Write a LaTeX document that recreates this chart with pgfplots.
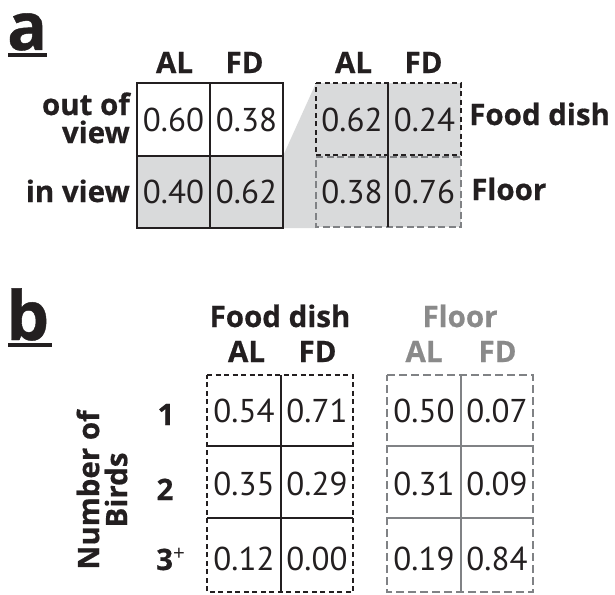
\documentclass[border=0pt]{standalone}
\usepackage{fontspec}
\setmainfont{PT Sans}
\newfontfamily\osans{Open Sans}[BoldFeatures={FakeBold=0.6}]
\usepackage{pgfplots}
\usepackage{pgfplotstable}
\pgfplotsset{compat=1.18}
\definecolor{ink}{HTML}{231F20}
\definecolor{cellgray}{HTML}{D9DADB}
\definecolor{linegray}{HTML}{808285}
\definecolor{txtgray}{HTML}{8A8A8A}
\newcommand\numfont{\fontsize{33}{36}\selectfont}
\newcommand\labfont{\osans\bfseries\fontsize{29.5}{28}\selectfont}

% panel a: proportions (x, baseline y, value)
\pgfplotstableread{
x y v
173.5 131 0.60
246.5 131 0.38
173.5 203 0.40
246.5 203 0.62
352 131 0.62
424.5 131 0.24
352 203 0.38
424.5 203 0.76
}\tabA
% panel b: food dish
\pgfplotstableread{
x y v
244 422 0.54
317 422 0.71
244 495 0.35
317 495 0.29
244 570 0.12
317 570 0.00
}\tabBfood
% panel b: floor
\pgfplotstableread{
x y v
424 422 0.50
497 422 0.07
424 495 0.31
497 495 0.09
424 570 0.19
497 570 0.84
}\tabBfloor

\begin{document}
\begin{tikzpicture}
\begin{axis}[
  scale only axis, width=615pt, height=594pt,
  xmin=0, xmax=615, ymin=0, ymax=594, y dir=reverse,
  hide axis, clip=false,
  every axis plot/.append style={line join=miter, line cap=butt},
]
% ---------- panel a fills
\addplot[fill=cellgray, draw=none] coordinates {(137,156) (283,156) (283,228) (137,228)} -- cycle;
\addplot[fill=cellgray, draw=none] coordinates {(283,156) (316,83) (316,228) (283,228)} -- cycle;
\addplot[fill=cellgray, draw=none] coordinates {(316,83) (461,83) (461,227) (316,227)} -- cycle;
% left table lines
\addplot[ink, line width=2.7pt] coordinates {(137,83) (283,83) (283,228) (137,228)} -- cycle;
\addplot[ink, line width=2.7pt] coordinates {(210,83) (210,228)};
\addplot[ink, line width=2.7pt] coordinates {(137,156) (283,156)};
% right table lines
\addplot[linegray, line width=2pt, dash pattern=on 7pt off 3.5pt] coordinates {(316,157) (461,157) (461,227) (316,227)} -- cycle;
\addplot[ink, line width=2pt, dash pattern=on 5pt off 3.5pt] coordinates {(316,83) (461,83) (461,155) (316,155)} -- cycle;
\addplot[ink, line width=2.5pt] coordinates {(388,83) (388,227)};
% ---------- panel b lines
\addplot[ink, line width=2pt, dash pattern=on 5pt off 3.5pt] coordinates {(207,375) (353,375) (353,592) (207,592)} -- cycle;
\addplot[ink, line width=2.4pt] coordinates {(281,375) (281,592)};
\addplot[ink, line width=2.4pt] coordinates {(207,446) (353,446)};
\addplot[ink, line width=2.4pt] coordinates {(207,518) (353,518)};
\addplot[linegray, line width=2pt, dash pattern=on 8pt off 4pt] coordinates {(387,375) (533,375) (533,592) (387,592)} -- cycle;
\addplot[linegray, line width=2pt] coordinates {(461,375) (461,592)};
\addplot[linegray, line width=2pt] coordinates {(387,446) (533,446)};
\addplot[linegray, line width=2pt] coordinates {(387,518) (533,518)};
% underlines
\addplot[ink, line width=4pt] coordinates {(8,55) (47,55)};
\addplot[ink, line width=4pt] coordinates {(8,345) (52,345)};
% ---------- values
\addplot[only marks, mark=none, nodes near coords, point meta=explicit symbolic,
  nodes near coords style={anchor=base, font=\numfont, text=ink, inner sep=0pt}]
  table[x=x, y=y, meta=v] {\tabA};
\addplot[only marks, mark=none, nodes near coords, point meta=explicit symbolic,
  nodes near coords style={anchor=base, font=\numfont, text=ink, inner sep=0pt}]
  table[x=x, y=y, meta=v] {\tabBfood};
\addplot[only marks, mark=none, nodes near coords, point meta=explicit symbolic,
  nodes near coords style={anchor=base, font=\numfont, text=ink, inner sep=0pt}]
  table[x=x, y=y, meta=v] {\tabBfloor};
% ---------- labels
\node[anchor=base west, inner sep=0pt, font=\osans\bfseries\fontsize{66}{66}\selectfont, text=ink] at (axis cs:7,50) {a};
\node[anchor=base west, inner sep=0pt, font=\osans\bfseries\fontsize{68}{68}\selectfont, text=ink] at (axis cs:6,340) {b};
\node[anchor=base, inner sep=0pt, font=\labfont, text=ink] at (axis cs:174.5,73) {AL};
\node[anchor=base, inner sep=0pt, font=\labfont, text=ink] at (axis cs:244.5,73) {FD};
\node[anchor=base, inner sep=0pt, font=\labfont, text=ink] at (axis cs:353.5,73) {AL};
\node[anchor=base, inner sep=0pt, font=\labfont, text=ink] at (axis cs:423.5,73) {FD};
\node[anchor=base east, inner sep=0pt, font=\labfont, text=ink] at (axis cs:130,115) {out of};
\node[anchor=base east, inner sep=0pt, font=\labfont, text=ink] at (axis cs:130,143) {view};
\node[anchor=base east, inner sep=0pt, font=\labfont, text=ink] at (axis cs:130,202) {in view};
\node[anchor=base west, inner sep=0pt, font=\labfont, text=ink] at (axis cs:469,125) {Food dish};
\node[anchor=base west, inner sep=0pt, font=\labfont, text=ink] at (axis cs:471,200) {Floor};
% panel b labels
\node[anchor=base, inner sep=0pt, font=\labfont, text=ink] at (axis cs:280,327) {Food dish};
\node[anchor=base, inner sep=0pt, font=\labfont, text=ink] at (axis cs:246.5,362) {AL};
\node[anchor=base, inner sep=0pt, font=\labfont, text=ink] at (axis cs:317.5,362) {FD};
\node[anchor=base, inner sep=0pt, font=\labfont, text=txtgray] at (axis cs:460,327) {Floor};
\node[anchor=base, inner sep=0pt, font=\labfont, text=txtgray] at (axis cs:424,362) {AL};
\node[anchor=base, inner sep=0pt, font=\labfont, text=txtgray] at (axis cs:497.5,362) {FD};
\node[anchor=base, inner sep=0pt, font=\labfont, text=ink] at (axis cs:166,425) {1};
\node[anchor=base, inner sep=0pt, font=\labfont, text=ink] at (axis cs:165,500) {2};
\node[anchor=base west, inner sep=0pt, font=\labfont, text=ink] at (axis cs:156,570) {3\textsuperscript{\mdseries+}};
\node[rotate=90, anchor=center, inner sep=0pt, align=center, font=\labfont, text=ink] at (axis cs:102,490) {Number of\\Birds};
\end{axis}
\pgfresetboundingbox
\path (current axis.south west) rectangle (current axis.north east);
\end{tikzpicture}
\end{document}
